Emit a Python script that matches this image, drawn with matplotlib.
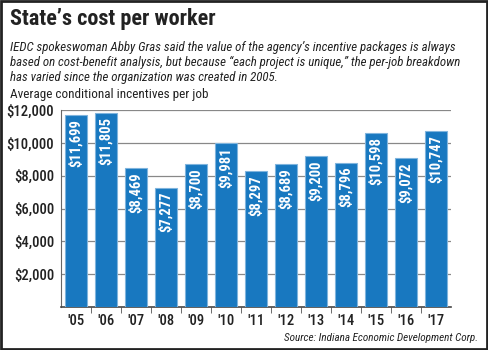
import matplotlib.pyplot as plt
from matplotlib.patches import Rectangle
from matplotlib import font_manager

years = ["'05", "'06", "'07", "'08", "'09", "'10", "'11", "'12", "'13", "'14", "'15", "'16", "'17"]
values = [11699, 11805, 8469, 7277, 8700, 9981, 8297, 8689, 9200, 8796, 10598, 9072, 10747]

names = {f.name for f in font_manager.fontManager.ttflist}
narrow = 'DejaVu Sans'
for cand in ['Liberation Sans Narrow', 'Roboto Condensed', 'Open Sans Condensed']:
    if cand in names:
        narrow = cand
        break

fig = plt.figure(figsize=(4.88, 3.5), dpi=100)
ax = fig.add_axes([61 / 488, 43 / 350, 390 / 488, 197 / 350])
fnt = dict(family=narrow, stretch='condensed')

x = range(len(years))
bars = ax.bar(x, values, width=0.72, color='#1878c0', edgecolor='#7fb4dd', linewidth=0.8, zorder=3)
for xi, v in zip(x, values):
    ax.text(xi, v - 250, '${:,}'.format(v), rotation=90, ha='center', va='top',
            color='white', fontsize=10.5, fontweight='bold', zorder=4, **fnt)

ax.set_xlim(-0.5, len(years) - 0.5)
ax.set_ylim(0, 12000)
ticks = [2000, 4000, 6000, 8000, 10000, 12000]
ax.set_yticks(ticks)
ax.set_yticklabels(['${:,}'.format(t) for t in ticks], fontsize=10.5, color='#222222',
                   fontweight='medium', **fnt)
ax.set_xticks(list(x))
ax.set_xticklabels(years, fontsize=10.5, color='#222222', fontweight='medium', **fnt)
ax.set_xticks([i + 0.5 for i in range(len(years) - 1)], minor=True)
ax.tick_params(axis='x', which='major', length=0, pad=5)
ax.tick_params(axis='x', which='minor', length=4, color='#555555')
ax.tick_params(axis='y', length=0, pad=5)
ax.grid(axis='y', color='#888888', linewidth=0.9, zorder=0)
for s in ['top', 'right']:
    ax.spines[s].set_visible(False)
ax.spines['left'].set_color('#666666')
ax.spines['bottom'].set_color('#444444')
ax.spines['bottom'].set_linewidth(1.2)

fig.text(10 / 488, 1 - 19 / 350, 'State\u2019s cost per worker', fontsize=16, fontweight='bold',
         va='center', color='#222222', **fnt)
sub = ('IEDC spokeswoman Abby Gras said the value of the agency\u2019s incentive packages is always\n'
       'based on cost-benefit analysis, but because \u201ceach project is unique,\u201d the per-job breakdown\n'
       'has varied since the organization was created in 2005.')
fig.text(10 / 488, 1 - 41 / 350, sub, fontsize=9.3, style='italic',
         va='top', linespacing=1.18, color='#222222', **fnt)
fig.text(10 / 488, 1 - 95 / 350, 'Average conditional incentives per job', fontsize=9.5,
         va='center', color='#222222', **fnt)
fig.text(478 / 488, 1 - 338 / 350, 'Source: Indiana Economic Development Corp.', fontsize=8,
         style='italic', ha='right', va='center', color='#222222', **fnt)

fig.patches.append(Rectangle((0.002, 0.003), 0.996, 0.994, transform=fig.transFigure,
                             fill=False, edgecolor='#222222', linewidth=2))

fig.savefig('out.png', dpi=100)
